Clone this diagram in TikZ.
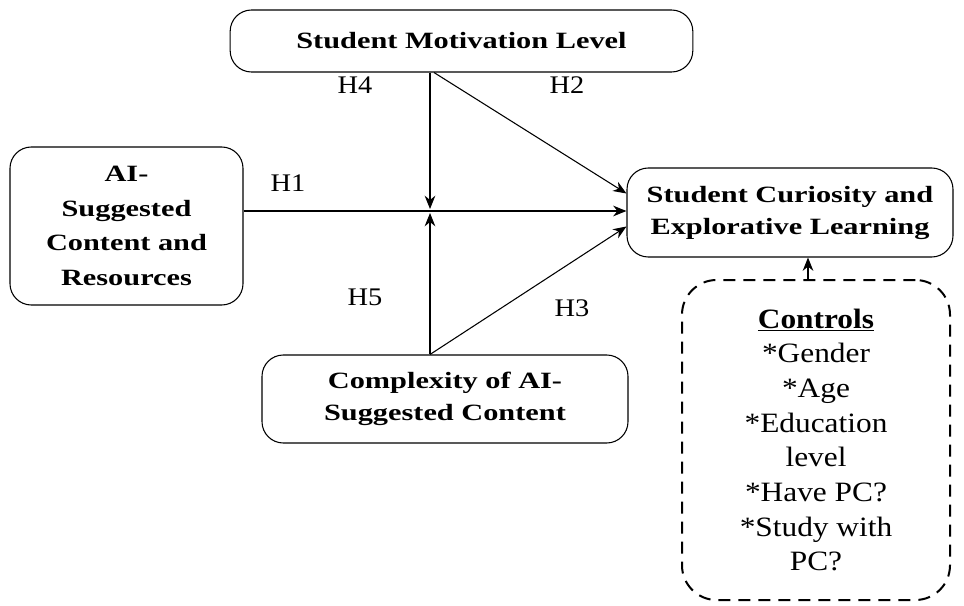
\documentclass[tikz,border=0pt]{standalone}
\usepackage{fontspec}
\setmainfont{Liberation Serif}
\newfontfamily\boxfont[FakeStretch=1.3]{Liberation Serif}
\newfontfamily\ctlfont[FakeStretch=1.12]{Liberation Serif}
\usetikzlibrary{arrows.meta,calc}
\tikzset{
  varbox/.style={draw,rounded corners=16pt,line width=0.8pt,align=center,
    font=\boxfont\bfseries\fontsize{17.5}{24}\selectfont},
  ctlbox/.style={draw,rounded corners=26pt,line width=1.5pt,dash pattern=on 9pt off 6pt,
    align=center,font=\ctlfont\fontsize{21}{26}\selectfont},
  hlabel/.style={font=\ctlfont\fontsize{19}{20}\selectfont},
  link/.style={->,line width=0.8pt},
}
\begin{document}
\begin{tikzpicture}[>={Stealth[length=10pt,width=8pt]},x=0.75pt,y=-0.75pt]
  \useasboundingbox (0,0) rectangle (964,606);
  % variables
  \node[varbox,minimum width=347pt,minimum height=46.5pt] (mot) at (461.5,41) {Student Motivation Level};
  \node[varbox,minimum width=174.75pt,minimum height=118.5pt,font=\boxfont\bfseries\fontsize{17.5}{26}\selectfont] (ai) at (126.5,226) {AI-\\Suggested\\Content and\\Resources};
  \node[varbox,minimum width=244.5pt,minimum height=66.75pt] (cur) at (790,212.5) {Student Curiosity and\\Explorative Learning};
  \node[varbox,minimum width=274.5pt,minimum height=66pt] (cpx) at (445,399) {Complexity of AI-\\Suggested Content};
  \node[ctlbox,minimum width=201pt,minimum height=240pt] (ctl) at (816,440) {\textbf{\underline{Controls}}\\*Gender\\*Age\\*Education\\level\\*Have PC?\\*Study with\\PC?};
  % junction of the moderators
  \coordinate (j) at (430,211);
  \coordinate (ca) at (808,0);
  % paths
  \draw[link] (ai.east |- j) -- (cur.west |- j);
  \draw[link,shorten >=1.5pt] (mot.south -| j) -- (j);
  \draw[link,shorten >=1.5pt] (cpx.north -| j) -- (j);
  \draw[link] ($(mot.south -| j)+(4,0)$) -- ($(cur.west)+(0,-19)$);
  \draw[link] (cpx.north -| j) -- ($(cur.west)+(0,14)$);
  \draw[link] (ctl.north -| ca) -- (cur.south -| ca);
  % hypotheses
  \node[hlabel] (h1) at (288,183) {H1};
  \node[hlabel] (h2) at (567,85) {H2};
  \node[hlabel] (h3) at (572,308) {H3};
  \node[hlabel] (h4) at (355,85) {H4};
  \node[hlabel] (h5) at (365,297) {H5};
\end{tikzpicture}
\end{document}
